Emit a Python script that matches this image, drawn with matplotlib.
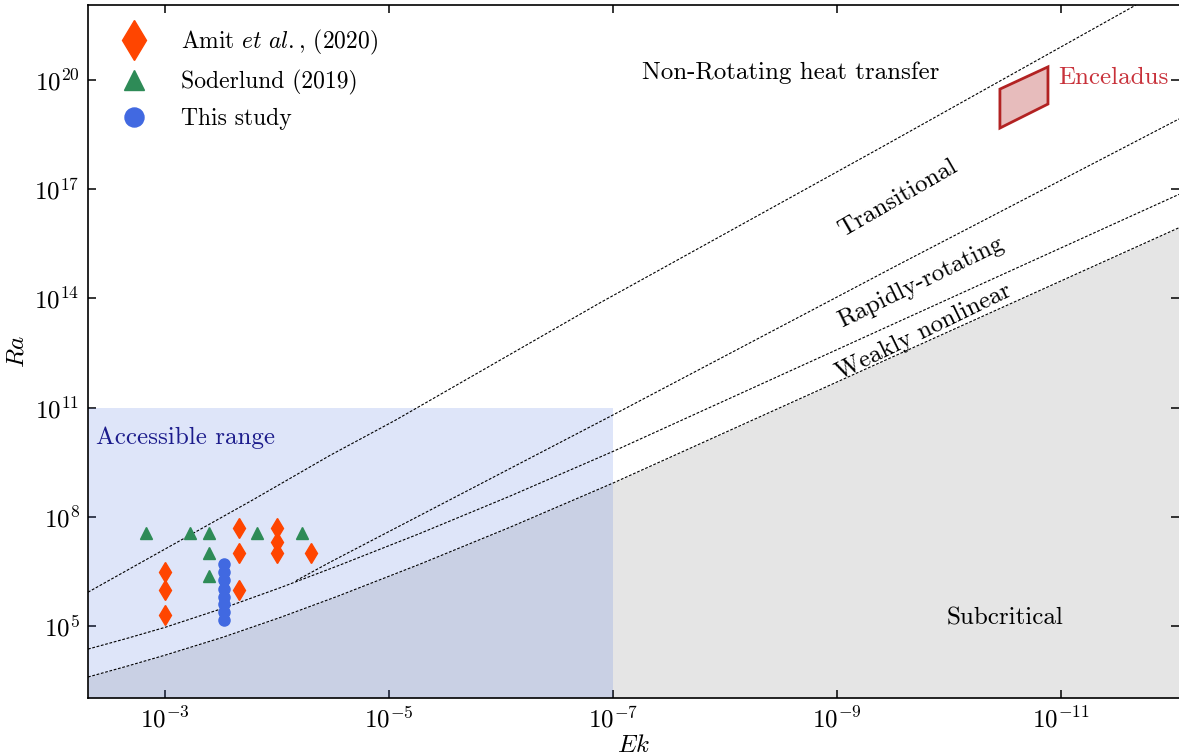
import numpy as np
import matplotlib
matplotlib.use("Agg")
import matplotlib.pyplot as plt
from matplotlib.patches import Polygon, Rectangle

plt.rcParams['font.family'] = ['cmr10', 'DejaVu Serif']
plt.rcParams['mathtext.fontset'] = 'cm'
plt.rcParams['axes.unicode_minus'] = False
plt.rcParams['axes.formatter.use_mathtext'] = True

# ---------------- data (log10 values) ----------------
# Subcritical boundary (lowest curve)
subcrit_log_ek = [-2.3125, -2.652, -3.0, -3.518, -4.027, -4.545, -5.277, -6.080, -7.0, -9.5625, -12.054]
subcrit_log_ra = [3.602, 3.892, 4.202, 4.696, 5.236, 5.825, 6.703, 7.715, 8.929, 12.486, 15.943]
# Weakly nonlinear / rapidly rotating boundary
weak_log_ek = [-2.3125, -2.652, -3.0, -3.518, -4.027, -4.545, -5.277, -6.080, -7.0, -9.5625, -12.054]
weak_log_ra = [4.369, 4.656, 4.966, 5.491, 6.053, 6.658, 7.546, 8.570, 9.798, 13.380, 16.859]
# Rapidly rotating / transitional boundary
rapid_log_ek = [-4.170, -4.473, -7.0, -9.5625, -12.054]
rapid_log_ra = [6.248, 6.755, 10.80, 14.95, 18.93]
# Transitional / non-rotating boundary
trans_log_ek = [-2.3125, -3.777, -4.473, -5.054, -6.884, -9.384, -11.67]
trans_log_ra = [5.932, 8.455, 9.689, 10.65, 13.88, 18.13, 22.06]

# Amit et al. (2020)
amit_ek = [1e-3, 1e-3, 1e-3, 2.18e-4, 2.18e-4, 2.18e-4, 1e-4, 1e-4, 1e-4, 4.97e-5]
amit_ra = [3.0e6, 9.8e5, 2.0e5, 4.9e7, 1.0e7, 9.8e5, 4.9e7, 2.0e7, 1.0e7, 1.0e7]
# Soderlund (2019)
sod_ek = [1.48e-3, 5.98e-4, 4.05e-4, 4.05e-4, 4.05e-4, 1.51e-4, 5.98e-5]
sod_ra = [3.55e7, 3.55e7, 3.55e7, 1.0e7, 2.35e6, 3.55e7, 3.55e7]
# This study
this_ek = [3e-4] * 8
this_ra = [5.0e6, 3.0e6, 1.8e6, 1.05e6, 6.3e5, 4.0e5, 2.4e5, 1.5e5]

# Enceladus parallelogram (log10 Ek, log10 Ra)
encel_log_ek = [-10.455, -10.884, -10.884, -10.455]
encel_log_ra = [19.75, 20.36, 19.34, 18.68]

# Accessible range limits
access_ek_min = 1e-7
access_ra_max = 1e11

xlim_log = (-2.3125, -12.054)
ylim_log = (3.026, 22.06)
xtick_vals = [1e-3, 1e-5, 1e-7, 1e-9, 1e-11]
xtick_labels = [r'$10^{-3}$', r'$10^{-5}$', r'$10^{-7}$', r'$10^{-9}$', r'$10^{-11}$']
ytick_vals = [1e5, 1e8, 1e11, 1e14, 1e17, 1e20]
ytick_labels = [r'$10^{5}$', r'$10^{8}$', r'$10^{11}$', r'$10^{14}$', r'$10^{17}$', r'$10^{20}$']

# ---------------- figure ----------------
fig = plt.figure(figsize=(11.79, 7.56), dpi=100)
ax = fig.add_axes([88/1179, 1-698/756, (1179-88)/1179, (698-5)/756])
ax.set_xscale('log')
ax.set_yscale('log')
ax.set_xlim(10**xlim_log[0], 10**xlim_log[1])
ax.set_ylim(10**ylim_log[0], 10**ylim_log[1])

tolin = lambda v: [10**x for x in v]

# subcritical region
ax.fill_between(tolin(subcrit_log_ek), tolin(subcrit_log_ra), 10**ylim_log[0],
                color='#e5e5e5', lw=0, zorder=1)
# accessible range
ax.add_patch(Rectangle((10**xlim_log[0], 10**ylim_log[0]),
                       access_ek_min - 10**xlim_log[0], access_ra_max - 10**ylim_log[0],
                       facecolor='royalblue', alpha=0.17, lw=0, zorder=2))

ls = (0, (2.5, 1.5))
for lx, ly in [(subcrit_log_ek, subcrit_log_ra), (weak_log_ek, weak_log_ra),
               (rapid_log_ek, rapid_log_ra), (trans_log_ek, trans_log_ra)]:
    ax.plot(tolin(lx), tolin(ly), color='black', lw=0.8, ls=ls, zorder=3)

# Enceladus
ax.add_patch(Polygon(list(zip(tolin(encel_log_ek), tolin(encel_log_ra))), closed=True,
                     facecolor=(0.698, 0.133, 0.133, 0.3), edgecolor='#b22222', lw=2, zorder=4))

ax.plot(amit_ek, amit_ra, 'd', color='orangered', ms=10.5, ls='none', zorder=5,
        label=r'Amit $\mathit{et\ al.}$, (2020)')
ax.plot(sod_ek, sod_ra, '^', color='seagreen', ms=9, ls='none', zorder=5,
        label='Soderlund (2019)')
ax.plot(this_ek, this_ra, 'o', color='royalblue', ms=8, ls='none', zorder=5,
        label='This study')

fs = 18
ax.text(10**-8.59, 10**20.19, 'Non-Rotating heat transfer', fontsize=fs, ha='center', va='center')
ax.text(10**-9.54, 10**16.74, 'Transitional', fontsize=fs, ha='center', va='center', rotation=30)
ax.text(10**-9.75, 10**14.43, 'Rapidly-rotating', fontsize=fs, ha='center', va='center', rotation=26)
ax.text(10**-9.77, 10**13.09, 'Weakly nonlinear', fontsize=fs, ha='center', va='center', rotation=26)
ax.text(10**-10.5, 10**5.22, 'Subcritical', fontsize=fs, ha='center', va='center')
ax.text(10**-3.18, 10**10.18, 'Accessible range', fontsize=fs, ha='center', va='center', color='#1c1c8c')
ax.text(10**-11.47, 10**20.05, 'Enceladus', fontsize=fs, ha='center', va='center', color='#c8313a')

ax.set_xticks(xtick_vals)
ax.set_xticklabels(xtick_labels)
ax.set_yticks(ytick_vals)
ax.set_yticklabels(ytick_labels)
ax.minorticks_off()
ax.tick_params(direction='in', top=True, right=True, length=6, width=1.1, labelsize=fs, pad=6)
for s in ax.spines.values():
    s.set_linewidth(1.2)
ax.spines['right'].set_visible(False)

ax.set_xlabel(r'$Ek$', fontsize=fs, labelpad=2)
ax.set_ylabel(r'$Ra$', fontsize=fs, labelpad=4)

leg = ax.legend(loc='upper left', frameon=False, fontsize=17,
                handletextpad=1.0, labelspacing=0.55, borderaxespad=0.3,
                bbox_to_anchor=(0.0054, 0.9908))
for h, ms in zip(leg.legend_handles, [20.5, 14.5, 13.7]):
    h.set_markersize(ms)

fig.savefig('out.png', dpi=100)
